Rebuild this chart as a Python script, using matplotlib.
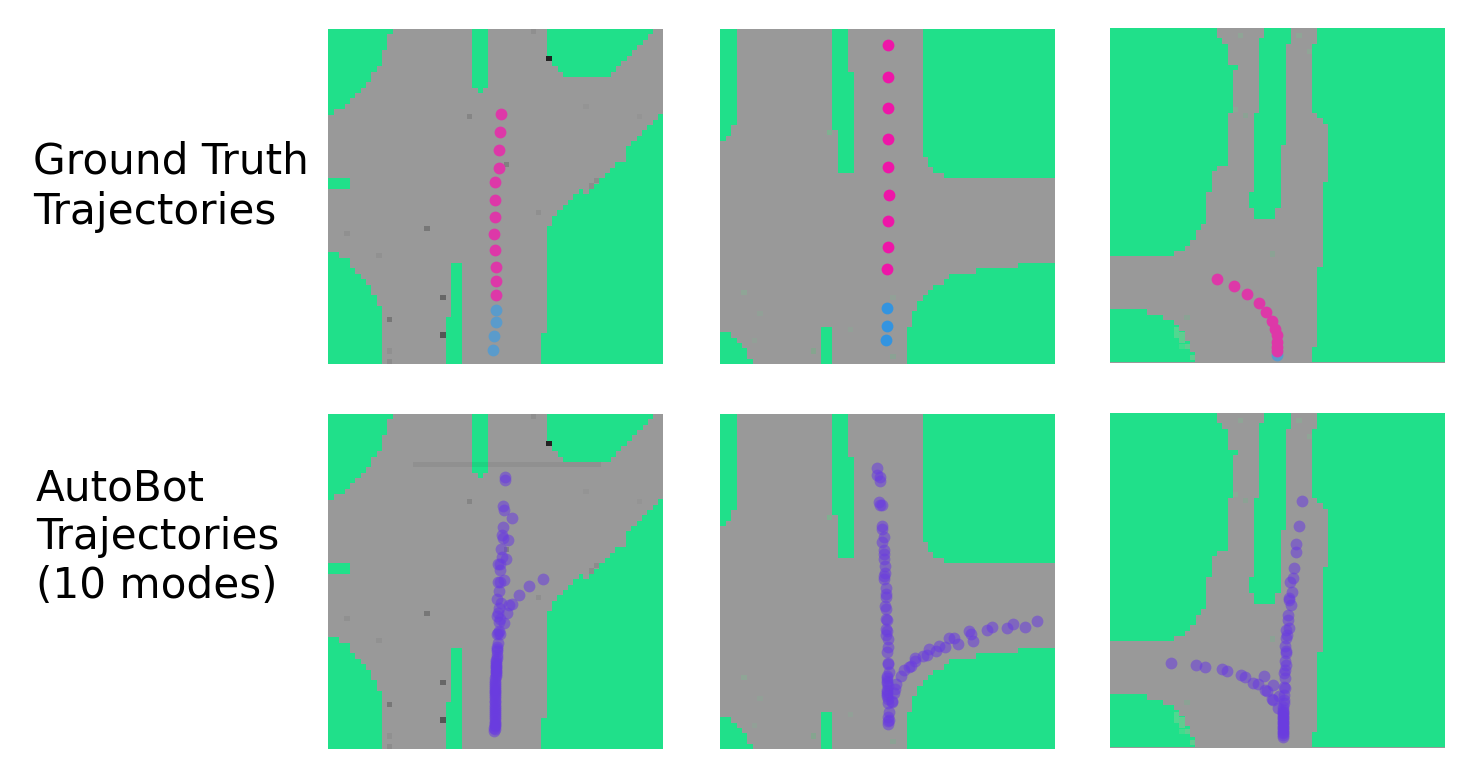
import matplotlib
matplotlib.use('Agg')
from matplotlib import pyplot as plt

#== Colours ==#
cinza = '#999999'
verde = '#20E08A'
roxo = '#6A3CE0'

#== Maps, corners of the green areas (units: 1/3 px of the reference) ==#
mapa_a = [
    [(25,27),(218,27),(218,43),(202,43),(202,91),(186,91),(186,139),(170,139),(170,155),(154,155),(154,187),(138,187),
     (138,203),(122,203),(122,219),(106,219),(106,235),(90,235),(90,251),(74,251),(74,267),(42,267),(42,283),(25,283)],
    [(457,27),(503,27),(503,203),(489,203),(489,219),(473,219),(473,203),(457,203)],
    [(681,27),(1000,27),(1000,43),(984,43),(984,59),(968,59),(968,75),(952,75),(952,91),(936,91),(936,107),(920,107),
     (920,123),(904,123),(904,139),(888,139),(888,155),(872,155),(872,171),(729,171),(729,155),(713,155),(713,139),
     (697,139),(697,123),(681,123)],
    [(25,473),(90,473),(90,506),(25,506)],
    [(25,696),(58,696),(58,712),(90,712),(90,744),(106,744),(106,760),(122,760),(122,776),(138,776),(138,792),(154,792),
     (154,824),(170,824),(170,856),(186,856),(186,1030),(25,1030)],
    [(394,729),(425,729),(425,1030),(378,1030),(378,888),(394,888)],
    [(1030,282),(1014,282),(1014,298),(998,298),(998,314),(982,314),(982,330),(966,330),(966,346),(950,346),(950,362),
     (934,362),(934,378),(918,378),(918,426),(886,426),(886,442),(870,442),(870,458),(854,458),(854,474),(838,474),
     (838,490),(822,490),(822,506),(806,506),(806,522),(790,522),(790,506),(776,506),(776,522),(760,522),(760,538),
     (744,538),(744,554),(728,554),(728,570),(712,570),(712,586),(696,586),(696,618),(680,618),(680,936),(664,936),
     (664,1030),(1030,1030)],
]
mapa_b = [
    [(25,27),(74,27),(74,315),(58,315),(58,347),(42,347),(42,362),(25,362)],
    [(360,27),(408,27),(408,155),(425,155),(425,457),(378,457),(378,330),(360,330)],
    [(632,27),(1030,27),(1030,473),(696,473),(696,457),(664,457),(664,441),(648,441),(648,409),(632,409)],
    [(25,935),(58,935),(58,951),(74,951),(74,967),(90,967),(90,983),(106,983),(106,1015),(122,1015),(122,1030),(25,1030)],
    [(328,919),(360,919),(360,1030),(328,1030)],
    [(1030,729),(918,729),(918,744),(792,744),(792,760),(712,760),(712,776),(696,776),(696,792),(664,792),(664,808),
     (648,808),(648,824),(632,824),(632,840),(616,840),(616,872),(600,872),(600,920),(584,920),(584,1030),(1030,1030)],
]
mapa_c = [
    [(23,23),(345,23),(345,55),(360,55),(360,71),(377,71),(377,135),(408,135),(408,151),(392,151),(392,279),(377,279),
     (377,437),(345,437),(345,453),(329,453),(329,517),(313,517),(313,613),(297,613),(297,629),(281,629),(281,661),
     (265,661),(265,677),(249,677),(249,693),(217,693),(217,709),(23,709)],
    [(487,23),(568,23),(568,71),(552,71),(552,375),(536,375),(536,565),(520,565),(520,597),(456,597),(456,565),(440,565),
     (440,517),(456,517),(456,279),(472,279),(472,55),(487,55)],
    [(646,23),(1030,23),(1030,1027),(630,1027),(630,980),(646,980),(646,741),(662,741),(662,485),(678,485),(678,311),
     (662,311),(662,295),(646,295),(646,279),(630,279),(630,71),(646,71)],
    [(23,868),(136,868),(136,884),(184,884),(184,900),(216,900),(216,916),(232,916),(232,932),(248,932),(248,964),
     (264,964),(264,996),(280,996),(280,1027),(23,1027)],
]

#== Small squares on the road ==#
sq_a = [(687,115,'#222222'),(640,35,'#8f8f8f'),(448,290,'#858585'),(560,433,'#808080'),(830,481,'#8c8c8c'),
        (814,497,'#8c8c8c'),(655,577,'#8f8f8f'),(321,624,'#777777'),(81,640,'#909090'),(177,704,'#919191'),
        (369,832,'#666666'),(209,896,'#777777'),(369,943,'#555555'),(209,991,'#909090'),(209,1022,'#8c8c8c'),
        (958,290,'#949494'),(798,258,'#949494')]
sq_b = [(352,338,'#7fb090'),(96,816,'#8fa596'),(144,880,'#92a097'),(128,959,'#92a097'),(304,991,'#85a58f'),
        (416,927,'#92a097'),(543,831,'#92a097'),(543,1007,'#8ba294')]
sq_c = [(415,47,'#8fa596'),(591,47,'#8fa596'),(622,95,'#8fa596'),(400,268,'#8fa596'),(431,287,'#8ba294'),
        (511,702,'#8ba294'),(255,892,'#8ba294'),(224,930,'#50d890'),(240,945,'#60cc90'),(224,946,'#50d890'),
        (240,962,'#60cc90'),(256,980,'#60cc90'),(240,980,'#40dc8c'),(272,1012,'#60cc90')]

#== Ground truth trajectories ==#
rosa_a = [(543,280),(539,335),(538,388),(536,444),(525,484),(525,540),(524,590),(523,642),(525,690),(527,739),(529,781),(528,824)]
azul_a = [(528,869),(527,904),(521,946),(520,987)]
rosa_b = [(527,76),(527,171),(529,264),(529,356),(529,440),(530,523),(527,602),(527,680),(526,745)]
azul_b = [(526,863),(525,915),(523,959)]
rosa_c = [(345,778),(395,797),(436,821),(470,848),(493,875),(509,902),(518,926),(525,945),(526,965),(526,980),(526,992)]
azul_c = [(526,1006)]

#== AutoBot trajectories ==#
auto_a = [(555,217),(554,224),(550,302),(552,313),(575,338),(550,365),(547,388),(550,399),(564,403),(543,431),(545,455),
          (557,462),(533,477),(540,476),(541,494),(533,529),(541,530),(552,525),(538,557),(531,581),(543,593),(567,600),
          (577,597),(598,569),(626,543),(668,521),(537,608),(561,622),(534,624),(530,632),(540,640),(552,652),(538,650),
          (536,676),(532,686),(539,686),(534,682),(534,712),(531,732),(530,725),(532,738),(531,750),(530,758),(529,765),
          (528,770),(528,775),(528,780),(528,785),(528,790),(527,796),(527,800),(527,806),(527,812),(526,818),(526,825),
          (526,832),(526,838),(525,845),(525,850),(525,855),(525,860),(526,866),(525,872),(525,878),(525,885),(526,890),
          (525,897),(525,903),(525,910),(524,916),(524,922),(524,928),(524,935),(525,940),(524,948),(524,953),(524,958),
          (525,962),(523,966),(524,970),(523,975)]
auto_b = [(496,190),(494,210),(505,216),(505,227),(501,290),(505,298),(510,300),(510,362),(510,372),(516,395),(510,410),
          (517,435),(515,445),(515,460),(518,483),(520,503),(516,512),(515,522),(521,549),(521,565),(522,575),(518,601),
          (523,611),(523,640),(525,643),(523,672),(524,677),(523,690),(527,700),(527,725),(526,740),(527,772),(528,777),
          (532,800),(526,810),(526,818),(526,825),(526,833),(527,840),(526,852),(526,858),(526,865),(526,872),(528,880),
          (527,893),(540,890),(530,920),(529,935),(530,943),(528,955),(527,945),(553,834),(550,850),(545,862),(541,885),
          (568,810),(575,792),(590,783),(598,780),(608,757),(610,768),(634,753),(645,749),(652,730),(672,737),(681,721),
          (700,726),(712,698),(726,699),(739,716),(772,676),(776,685),(783,708),(825,674),(839,664),(885,667),(904,657),
          (939,665),(976,647)]
auto_c = [(601,287),(592,364),(583,418),(582,442),(575,490),(572,520),(563,532),(569,560),(561,578),(560,585),(566,601),
          (559,630),(557,645),(561,668),(553,676),(556,690),(553,700),(550,722),(553,738),(552,745),(549,768),(552,780),
          (549,795),(547,805),(548,820),(547,845),(549,848),(545,870),(545,885),(547,893),(208,773),(283,779),(308,786),
          (361,791),(374,797),(418,811),(430,815),(454,833),(467,838),(487,813),(513,841),(490,855),(495,858),(510,882),
          (513,884),(530,873),(528,908),(543,905),(543,915),(544,920),(543,925),(543,930),(543,935),(544,940),(543,945),
          (543,950),(543,955),(544,960),(543,965),(543,970),(543,975),(544,980),(543,985),(543,990),(543,995)]

fig = plt.figure(figsize=(14.61, 7.8), dpi=100)
W, H = 1461, 780


def painel(x0, y0, mapa, quadrados, lim):
    # x0, y0 = top left corner of the panel in pixels
    ax = fig.add_axes([x0/W, 1 - (y0 + 335)/H, 335/W, 335/H])
    ax.set_xlim(lim[0], lim[1])
    ax.set_ylim(lim[1], lim[2])
    ax.axis('off')
    ax.fill([lim[0], lim[1], lim[1], lim[0]], [lim[2], lim[2], lim[1], lim[1]], color=cinza, lw=0, zorder=0)
    for forma in mapa:
        ax.fill([p[0] for p in forma], [p[1] for p in forma], color=verde, lw=0, zorder=1)
    ax.scatter([q[0] for q in quadrados], [q[1] for q in quadrados], c=[q[2] for q in quadrados],
               marker='s', s=14, lw=0, zorder=2)
    return ax


def pontos(ax, lista, cor, alpha=1.0):
    ax.scatter([p[0] for p in lista], [p[1] for p in lista], s=72, color=cor, alpha=alpha, lw=0, zorder=3)


lim_a = (25, 1030, 27)
lim_c = (23, 1028, 23)

ax1 = painel(328.3, 29, mapa_a, sq_a, lim_a)
pontos(ax1, azul_a, '#5A9BCB')
pontos(ax1, rosa_a, '#DD38A8')

ax2 = painel(720.3, 29, mapa_b, sq_b, lim_a)
pontos(ax2, azul_b, '#3394E0')
pontos(ax2, rosa_b, '#EE16A8')

ax3 = painel(1109.7, 27.7, mapa_c, sq_c, lim_c)
pontos(ax3, azul_c, '#5A9BCB')
pontos(ax3, rosa_c, '#DD38A8')

ax4 = painel(328.3, 414, mapa_a, sq_a, lim_a)
ax4.fill([280, 842, 842, 280], [171, 171, 185, 185], color='black', alpha=0.06, lw=0, zorder=2)
pontos(ax4, auto_a, roxo, 0.55)

ax5 = painel(720.3, 414, mapa_b, sq_b, lim_a)
pontos(ax5, auto_b, roxo, 0.55)

ax6 = painel(1109.7, 412.7, mapa_c, sq_c, lim_c)
pontos(ax6, auto_c, roxo, 0.55)

#== Labels ==#
for texto, x, y in [('Ground Truth', 33, 174), ('Trajectories', 33, 224),
                    ('AutoBot', 36, 500), ('Trajectories', 36, 549), ('(10 modes)', 36, 598)]:
    fig.text(x/W, 1 - y/H, texto, fontsize=30.3, family='DejaVu Sans', color='black', va='baseline', ha='left')

fig.savefig('out.png', dpi=100)
